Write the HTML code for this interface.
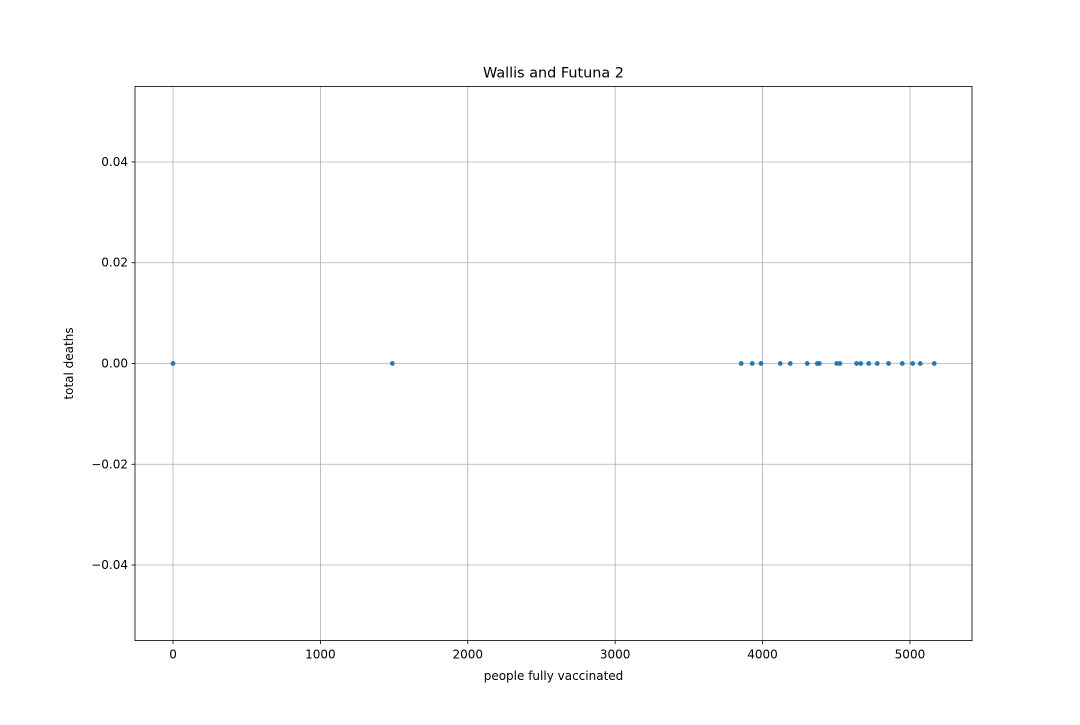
<!DOCTYPE html>
<html><head><meta charset="utf-8"><style>
body{margin:0;background:#fff;font-family:"Liberation Sans","DejaVu Sans",sans-serif}
svg text{font-family:"DejaVu Sans","Liberation Sans",sans-serif}
</style></head><body>
<svg id="chart" width="1080" height="720" xmlns="http://www.w3.org/2000/svg">
<rect width="1080" height="720" fill="#fff"/>
<g id="grid"></g><g id="pts"></g><g id="axes"></g>
</svg>
<script>
const xValues=[0,1488,3855,3930,3989,4120,4188,4303,4371,4385,4503,4525,4638,4666,4720,4778,4855,4948,5018,5070,5165];
const yValues=[0,0,0,0,0,0,0,0,0,0,0,0,0,0,0,0,0,0,0,0,0];
const xTicks=[0,1000,2000,3000,4000,5000];
const yTicks=[-0.04,-0.02,0,0.02,0.04];
const yTickLabels=["\u22120.04","\u22120.02","0.00","0.02","0.04"];
const L=135,R=972,T=86.4,B=640.6,xMin=-258,xMax=5421,yMin=-0.055,yMax=0.055;
const sx=v=>L+(v-xMin)/(xMax-xMin)*(R-L);
const sy=v=>B-(v-yMin)/(yMax-yMin)*(B-T);
const NS="http://www.w3.org/2000/svg";
function mk(p,tag,a,txt){const e=document.createElementNS(NS,tag);for(const k in a)e.setAttribute(k,a[k]);if(txt!==undefined)e.textContent=txt;p.appendChild(e);return e;}
const g=document.getElementById('grid'),pg=document.getElementById('pts'),ag=document.getElementById('axes');
xTicks.forEach(t=>{const x=sx(t);
const l=mk(g,'line',{x1:x,x2:x,y1:T,y2:B,stroke:'#b0b0b0','stroke-width':0.8});


mk(ag,'line',{x1:x,x2:x,y1:B,y2:B+3.5,stroke:'#000','stroke-width':0.8});
const tx=mk(ag,'text',{x:x,y:B+18,'text-anchor':'middle','font-size':12},String(t));

});
yTicks.forEach((t,i)=>{const y=sy(t);
const l=mk(g,'line',{x1:L,x2:R,y1:y,y2:y,stroke:'#b0b0b0','stroke-width':0.8});


mk(ag,'line',{x1:L-3.5,x2:L,y1:y,y2:y,stroke:'#000','stroke-width':0.8});
const tx=mk(ag,'text',{x:L-7,y:y+4,'text-anchor':'end','font-size':12},yTickLabels[i]);

});
xValues.forEach((v,i)=>{
const c=mk(pg,'circle',{cx:sx(v),cy:sy(yValues[i]),r:2.2,fill:'#1f77b4',stroke:'#1f77b4','stroke-opacity':0.6,'stroke-width':0.6});

});
const fr=mk(ag,'rect',{x:L,y:T,width:R-L,height:B-T,fill:'none',stroke:'#000','stroke-width':0.8});


const ti=mk(ag,'text',{x:(L+R)/2,y:T-9,'text-anchor':'middle','font-size':14.4},'Wallis and Futuna 2');


const xl=mk(ag,'text',{x:(L+R)/2,y:680,'text-anchor':'middle','font-size':12},'people fully vaccinated');


const yl=mk(ag,'text',{x:73,y:(T+B)/2,'text-anchor':'middle','font-size':12,transform:'rotate(-90 73 '+((T+B)/2)+')'},'total deaths');


</script>
</body></html>
